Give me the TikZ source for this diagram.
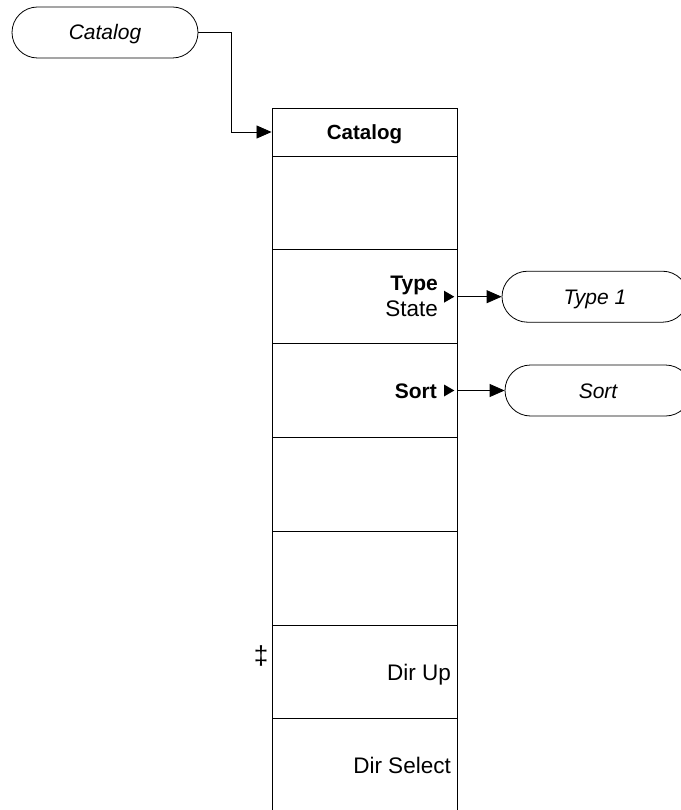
\documentclass[tikz,border=0pt]{standalone}
\usepackage{fontspec}
\setmainfont{Liberation Sans}
\usepackage{tikz}
\usetikzlibrary{arrows.meta, positioning}

\begin{document}
\begin{tikzpicture}[x=1pt, y=-1pt,
  menukey/.style={draw, line width=0.9pt, minimum width=185pt, minimum height=93.8pt, inner sep=0pt},
  menuhead/.style={menukey, minimum height=48pt, font=\fontsize{20.5}{24}\selectfont\bfseries, text height=15pt, text depth=0pt},
  keylabel/.style={anchor=base east, inner sep=0pt, font=\fontsize{22.5}{26}\selectfont},
  boldlabel/.style={keylabel, font=\fontsize{21}{24}\selectfont\bfseries},
  oval/.style={draw, line width=0.8pt, rounded corners=25.5pt, minimum width=186pt, minimum height=51pt, inner sep=0pt, font=\fontsize{21}{24}\selectfont\itshape, text height=15pt, text depth=0pt},
  link/.style={-{Triangle[length=15pt, width=13pt]}, line width=0.8pt}
]
  \useasboundingbox (0,0) rectangle (680,810);

  % menu column
  \node[menuhead] (head) at (364.5,132) {Catalog};
  \node[menukey] (key1) at (364.5,202.9) {};
  \node[menukey] (key2) at (364.5,296.7) {};
  \node[menukey] (key3) at (364.5,390.5) {};
  \node[menukey] (key4) at (364.5,484.3) {};
  \node[menukey] (key5) at (364.5,578.1) {};
  \node[menukey] (key6) at (364.5,671.9) {};
  \node[menukey] (key7) at (364.5,765.7) {};

  % key labels
  \node[boldlabel] (typelabel) at (438,290) {Type};
  \node[keylabel] (statelabel) at (438,316.5) {State};
  \node[boldlabel] (sortlabel) at (437,398) {Sort};
  \node[keylabel] (diruplabel) at (451,680) {Dir Up};
  \node[keylabel] (dirselectlabel) at (451,773) {Dir Select};
  \node[font=\fontsize{26}{30}\selectfont, inner sep=0pt] (dagger) at (261,656) {‡};
  \fill (444,290.7) -- (454.3,296.7) -- (444,302.7) -- cycle;
  \fill (444,384.5) -- (454.3,390.5) -- (444,396.5) -- cycle;

  % menu ovals
  \node[oval] (catalogoval) at (105,32.5) {Catalog};
  \node[oval] (typeoval) at (595,296.7) {Type 1};
  \node[oval] (sortoval) at (598,390.5) {Sort};

  \draw[link] (catalogoval.east) -- ++(33,0) |- (head.west);
  \draw[link] (key2.east) -- (typeoval.west);
  \draw[link] (key3.east) -- (sortoval.west);
\end{tikzpicture}
\end{document}
